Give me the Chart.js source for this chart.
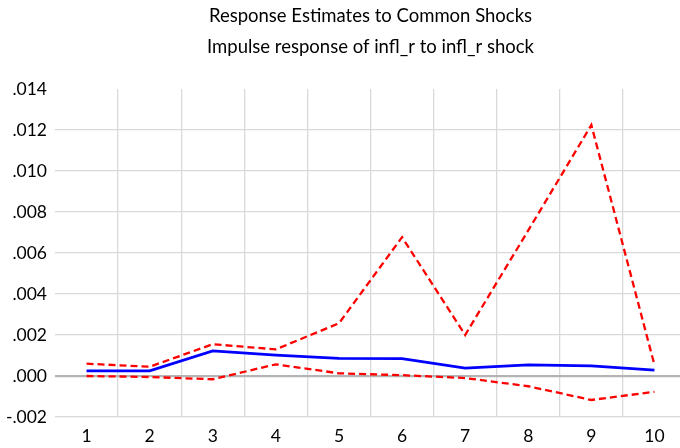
<!DOCTYPE html>
<html>
<head>
<meta charset="utf-8">
<script src="https://cdn.jsdelivr.net/npm/chart.js@4/dist/chart.umd.min.js"></script>
<style>
    html, body { margin: 0; padding: 0; overflow: hidden; background: #fff; }
    #wrap { width: 686px; height: 448px; }
</style>
</head>
<body>
<div id="wrap"><canvas id="irf-chart"></canvas></div>
<script>
// Periods after the shock
const periods = ['1', '2', '3', '4', '5', '6', '7', '8', '9', '10'];

// Point estimate and confidence bands
const response = [0.00025, 0.00025, 0.00122, 0.00102, 0.00086, 0.00085, 0.00038, 0.00054, 0.00049, 0.00029];
const upperBand = [0.0006, 0.00045, 0.00155, 0.0013, 0.00257, 0.00677, 0.002, 0.0071, 0.01224, 0.00054];
const lowerBand = [0.0, -0.00005, -0.00016, 0.00057, 0.00013, 0.00004, -0.0001, -0.0005, -0.00117, -0.00077];

// Value axis
const yMin = -0.002;
const yMax = 0.014;
const yStep = 0.002;

const titleLines = ['Response Estimates to Common Shocks', 'Impulse response of infl_r to infl_r shock'];

document.addEventListener('DOMContentLoaded', function() {
    const ctx = document.getElementById('irf-chart').getContext('2d');
    const fontFamily = 'Lato, "Open Sans", sans-serif';

    new Chart(ctx, {
        type: 'line',
        data: {
            labels: periods,
            datasets: [
                {
                    data: upperBand,
                    borderColor: '#ff0000',
                    borderWidth: 2.3,
                    borderDash: [7, 4]
                },
                {
                    data: lowerBand,
                    borderColor: '#ff0000',
                    borderWidth: 2.3,
                    borderDash: [7, 4]
                },
                {
                    data: response,
                    borderColor: '#0000ff',
                    borderWidth: 2.8
                }
            ]
        },
        options: {
            responsive: true,
            maintainAspectRatio: false,
            animation: false,
            elements: {
                point: { radius: 0 },
                line: { tension: 0 }
            },
            layout: { padding: 0 },
            plugins: {
                legend: { display: false },
                tooltip: { enabled: false },
                title: {
                    display: true,
                    fullSize: false,
                    text: titleLines,
                    color: '#000',
                    font: { family: fontFamily, size: 18.5, weight: 'normal', lineHeight: 1.7 },
                    padding: { top: 0, bottom: 26 }
                }
            },
            scales: {
                x: {
                    offset: true,
                    grid: {
                        offset: true,
                        drawTicks: false,
                        color: c => c.index === 0 ? 'rgba(0,0,0,0)' : '#d9d9d9',
                        lineWidth: 1.3
                    },
                    border: { display: false },
                    ticks: {
                        color: '#000',
                        padding: 9,
                        font: { family: fontFamily, size: 17.5 }
                    },
                    afterFit: scale => { scale.height = 31; }
                },
                y: {
                    min: yMin,
                    max: yMax,
                    grid: {
                        drawTicks: false,
                        color: c => {
                            if (c.tick && Math.abs(c.tick.value) < 1e-9) return '#b4b4b4';
                            if (c.tick && Math.abs(c.tick.value - yMax) < 1e-9) return 'rgba(0,0,0,0)';
                            return '#d9d9d9';
                        },
                        lineWidth: c => (c.tick && Math.abs(c.tick.value) < 1e-9) ? 2.2 : 1.3
                    },
                    border: { display: false },
                    ticks: {
                        stepSize: yStep,
                        color: '#000',
                        padding: 8,
                        font: { family: fontFamily, size: 17.5 },
                        callback: v => v.toFixed(3).replace('0.', '.')
                    },
                    afterFit: scale => { scale.width = 55; }
                }
            }
        }
    });
});
</script>
</body>
</html>
